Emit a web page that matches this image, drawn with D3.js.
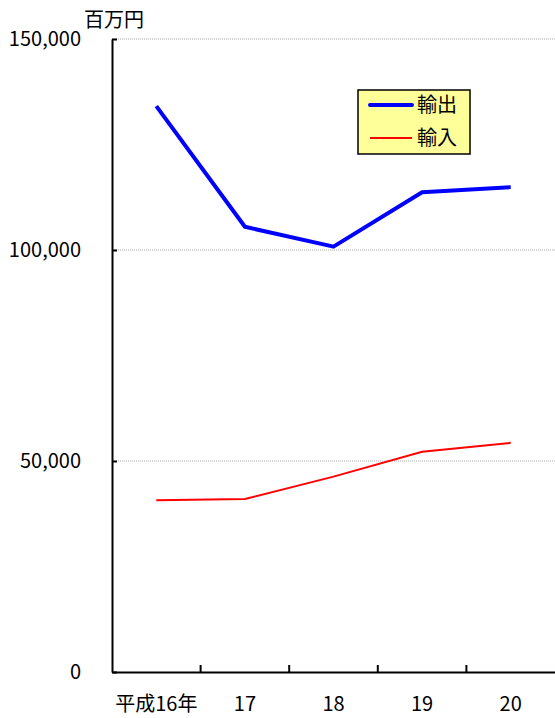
<!DOCTYPE html>
<html>
<head>
<meta charset="utf-8">
<script src="https://cdn.jsdelivr.net/npm/d3@7"></script>
<style>
  body { margin: 0; background: #fff; }
  svg { display: block; }
  text { font-family: "Noto Sans CJK JP", "Noto Sans", sans-serif; fill: #000; }
</style>
</head>
<body>
<svg id="chart" width="555" height="718"></svg>
<script>
// years (平成) and values in 百万円
var years = ["平成16年", "17", "18", "19", "20"];
var exportValues = [134100, 105500, 100800, 113700, 114900];
var importValues = [40700, 41000, 46300, 52200, 54300];
var yTicks = [0, 50000, 100000, 150000];

const svg = d3.select("#chart");
const plotLeft = 112, plotRight = 555, plotTop = 39, plotBottom = 672;

const x = d3.scaleBand().domain(years).range([plotLeft, plotRight]);
const y = d3.scaleLinear().domain([0, 150000]).range([plotBottom, plotTop]);

// gridlines
svg.append("g")
    .selectAll("line")
    .data(yTicks.filter(d => d > 0))
    .enter()
    .append("line")
        .attr("x1", plotLeft).attr("x2", plotRight)
        .attr("y1", d => y(d)).attr("y2", d => y(d))
        .attr("stroke", "#a8a8a8")
        .attr("stroke-width", 1)
        .attr("stroke-dasharray", "1,1");

// y axis: ticks pointing inwards
const yAxis = svg.append("g")
    .attr("transform", "translate(" + plotLeft + ",0)")
    .call(d3.axisRight(y).tickValues(yTicks).tickSize(5).tickSizeOuter(0).tickFormat(""));
yAxis.select(".domain").attr("stroke", "#000").attr("stroke-width", 2);
yAxis.selectAll(".tick line").attr("stroke", "#000").attr("stroke-width", 2);

svg.append("g")
    .selectAll("text")
    .data(yTicks)
    .enter()
    .append("text")
        .attr("x", 81)
        .attr("y", d => y(d))
        .attr("dy", "0.35em")
        .attr("text-anchor", "end")
        .style("font-size", "20px")
        .text(d => d3.format(",")(d));

// x axis
const xAxis = svg.append("g")
    .attr("transform", "translate(0," + plotBottom + ")")
    .call(d3.axisTop(x).tickValues([]).tickSizeOuter(0));
xAxis.select(".domain").attr("stroke", "#000").attr("stroke-width", 2);

// tick marks between categories
svg.append("g")
    .selectAll("line")
    .data(years.slice(1))
    .enter()
    .append("line")
        .attr("x1", d => x(d)).attr("x2", d => x(d))
        .attr("y1", plotBottom).attr("y2", plotBottom - 7)
        .attr("stroke", "#000")
        .attr("stroke-width", 2);

svg.append("g")
    .selectAll("text")
    .data(years)
    .enter()
    .append("text")
        .attr("x", d => x(d) + x.bandwidth() / 2)
        .attr("y", 704)
        .attr("dy", "0.35em")
        .attr("text-anchor", "middle")
        .style("font-size", "20px")
        .text(d => d);

// unit
svg.append("text")
    .attr("x", 84).attr("y", 20)
    .attr("dy", "0.35em")
    .style("font-size", "20px")
    .text("百万円");

// lines
const line = d3.line()
    .x((d, i) => x(years[i]) + x.bandwidth() / 2)
    .y(d => y(d));

svg.append("path")
    .attr("d", line(importValues))
    .attr("fill", "none")
    .attr("stroke", "#ff0000")
    .attr("stroke-width", 2);

svg.append("path")
    .attr("d", line(exportValues))
    .attr("fill", "none")
    .attr("stroke", "#0000ff")
    .attr("stroke-width", 4)
    .attr("stroke-linejoin", "round");

// legend
const legend = svg.append("g");
legend.append("rect")
    .attr("x", 358).attr("y", 90)
    .attr("width", 112).attr("height", 64)
    .attr("fill", "#ffff99")
    .attr("stroke", "#000")
    .attr("stroke-width", 1.5);

const legendItems = [
    { name: "輸出", color: "#0000ff", width: 4, cy: 105 },
    { name: "輸入", color: "#ff0000", width: 2, cy: 138 }
];
legendItems.forEach(item => {
    legend.append("line")
        .attr("x1", 370).attr("x2", 412)
        .attr("y1", item.cy).attr("y2", item.cy)
        .attr("stroke", item.color)
        .attr("stroke-width", item.width)
        .attr("stroke-linecap", item.width > 2 ? "round" : "butt");
    legend.append("text")
        .attr("x", 417).attr("y", item.cy)
        .attr("dy", "0.35em")
        .style("font-size", "20px")
        .text(item.name);
});
</script>
</body>
</html>
